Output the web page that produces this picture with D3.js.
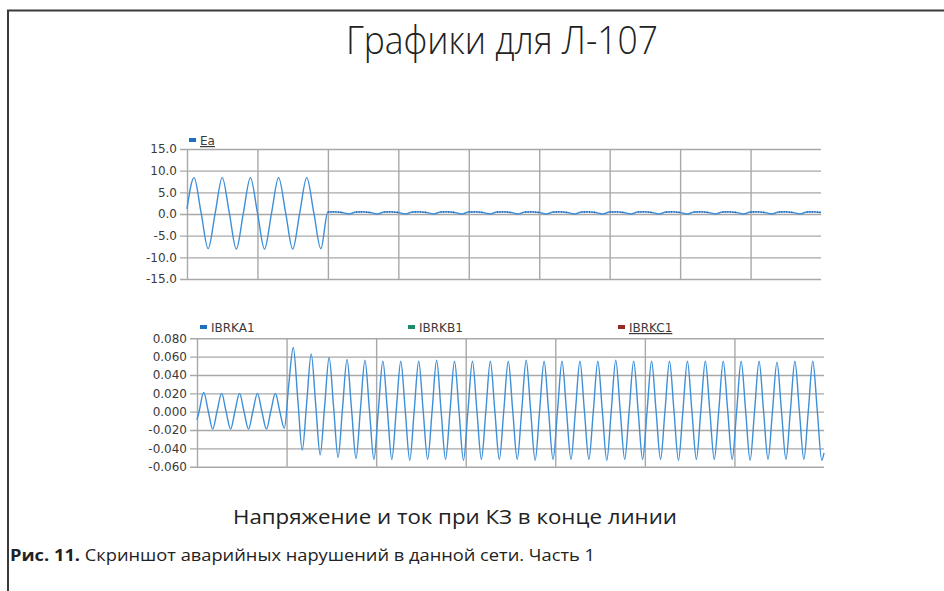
<!DOCTYPE html>
<html><head><meta charset="utf-8">
<script src="https://cdn.jsdelivr.net/npm/d3@7"></script>
<style>body{margin:0;background:#fff}svg{display:block}</style>
</head><body>
<script>
// ---- data ----
const titleText = "Графики для Л-107";
const subtitleText = "Напряжение и ток при КЗ в конце линии";
const captionBold = "Рис. 11.";
const captionText = " Скриншот аварийных нарушений в данной сети. Часть 1";

const topTicks = [15, 10, 5, 0, -5, -10, -15];
const topTickLabels = ["15.0", "10.0", "5.0", "0.0", "-5.0", "-10.0", "-15.0"];
const topGridTimes = [0, 50, 100, 150, 200, 250, 300, 350, 400];
const topDomain = [0, 450];
const eaTimes = d3.range(0, 451, 5);
const eaValues = [
  1.2, 8.4, 0.3, -8.0, 0.2, 8.4, 0.3, -8.1, 0.2, 8.4, 0.3, -8.1, 0.2, 8.4, 0.3, -8.1, 0.2, 8.4, 0.3, -8.0,
  0.45, 0.5, 0.35, 0.0, 0.45, 0.5, 0.35, 0.0, 0.45, 0.5, 0.35, 0.0, 0.45, 0.5, 0.35, 0.0,
  0.45, 0.5, 0.35, 0.0, 0.45, 0.5, 0.35, 0.0, 0.45, 0.5, 0.35, 0.0, 0.45, 0.5, 0.35, 0.0,
  0.45, 0.5, 0.35, 0.0, 0.45, 0.5, 0.35, 0.0, 0.45, 0.5, 0.35, 0.0, 0.45, 0.5, 0.35, 0.0,
  0.45, 0.5, 0.35, 0.0, 0.45, 0.5, 0.35, 0.0, 0.45, 0.5, 0.35, 0.0, 0.45, 0.5, 0.35, 0.0,
  0.45, 0.5, 0.35, 0.0, 0.45, 0.5, 0.35
];

const botTicks = [0.08, 0.06, 0.04, 0.02, 0, -0.02, -0.04, -0.06];
const botTickLabels = ["0.080", "0.060", "0.040", "0.020", "0.000", "-0.020", "-0.040", "-0.060"];
const botGridTimes = [0, 100, 200, 300, 400, 500, 600];
const botDomain = [0, 700];
const ibTimes = [0].concat(d3.range(2.5, 700, 5), [700]);
const ibValues = [
  -0.009,
  0.001, 0.021, 0.001, -0.019, 0.001, 0.020, 0.000, -0.019, 0.001, 0.020, 0.000, -0.019,
  0.001, 0.020, 0.000, -0.019, 0.001, 0.020, 0.000, -0.018,
  0.030, 0.070, 0.014, -0.042, 0.010, 0.063, 0.008, -0.047, 0.006, 0.059, 0.005, -0.050,
  0.004, 0.057, 0.003, -0.051, 0.003, 0.056, 0.002, -0.052, 0.002, 0.055, 0.002, -0.052,
  0.002, 0.055, 0.001, -0.053, 0.001, 0.055, 0.001, -0.052, 0.001, 0.056, 0.001, -0.052,
  0.001, 0.055, 0.001, -0.053, 0.001, 0.055, 0.001, -0.052, 0.001, 0.055, 0.001, -0.052,
  0.001, 0.055, 0.001, -0.052, 0.001, 0.056, 0.001, -0.053, 0.001, 0.055, 0.001, -0.052,
  0.001, 0.055, 0.001, -0.052, 0.001, 0.055, 0.001, -0.052, 0.001, 0.055, 0.001, -0.053,
  0.001, 0.056, 0.001, -0.052, 0.001, 0.055, 0.001, -0.052, 0.001, 0.055, 0.001, -0.052,
  0.001, 0.055, 0.001, -0.053, 0.001, 0.055, 0.001, -0.052, 0.001, 0.055, 0.001, -0.052,
  0.001, 0.055, 0.001, -0.052, 0.001, 0.055, 0.001, -0.053, 0.001, 0.055, 0.001, -0.052,
  0.001, 0.054, 0.001, -0.052, 0.001, 0.055, 0.001, -0.052, 0.001, 0.055, 0.001, -0.053,
  -0.045
];
const topLegend = [{name: "Ea", color: "#1f6fc0", underline: true}];
const botLegend = [
  {name: "IBRKA1", color: "#1f6fc0", underline: false},
  {name: "IBRKB1", color: "#1e8a6c", underline: false},
  {name: "IBRKC1", color: "#9a2a20", underline: true}
];

// ---- drawing ----
const W = 944, H = 591;
const svg = d3.select("body").append("svg").attr("width", W).attr("height", H);
const lineColor = "#3d8fd8", gridColor = "#a8a8a8", labelColor = "#3a3a3a";

svg.append("path").attr("d", `M8,${H} V10.5 H${W}`).attr("fill", "none")
  .attr("stroke", "#3a3a3a").attr("stroke-width", 2);

svg.append("text").attr("x", 502).attr("y", 54).attr("text-anchor", "middle")
  .attr("font-family", "Open Sans").attr("font-weight", 300).attr("font-size", 38)
  .attr("fill", "#222").attr("textLength", 312).attr("lengthAdjust", "spacingAndGlyphs")
  .text(titleText);

function panel(cfg) {
  const x = d3.scaleLinear().domain(cfg.domain).range([cfg.x0, cfg.x1]);
  const y = d3.scaleLinear().domain([cfg.ticks[0], cfg.ticks[cfg.ticks.length - 1]]).range([cfg.y0, cfg.y1]);
  const g = svg.append("g");
  // vertical grid via axis
  const bx = d3.axisBottom(x).tickValues(cfg.gridTimes).tickSize(-(cfg.y1 - cfg.y0)).tickFormat("");
  const bxG = g.append("g").attr("transform", `translate(0,${cfg.y1})`).call(bx);
  bxG.select(".domain").remove();
  bxG.selectAll(".tick line").attr("stroke", gridColor).attr("stroke-width", 1.4);
  // horizontal grid + labels via axis
  const ax = d3.axisLeft(y).tickValues(cfg.ticks).tickSize((cfg.x1 - cfg.x0) + 7)
    .tickFormat((d, i) => cfg.labels[i]).tickPadding(3);
  const axG = g.append("g").attr("transform", `translate(${cfg.x1},0)`).call(ax);
  axG.select(".domain").remove();
  axG.selectAll(".tick line").attr("stroke", gridColor).attr("stroke-width", 1.4);
  axG.selectAll(".tick text")
    .attr("font-family", "DejaVu Sans").attr("font-size", 12).attr("fill", labelColor);
  // series
  const pts = cfg.times.map((t, i) => [t, cfg.values[i]]);
  const line = d3.line().x(d => x(d[0])).y(d => y(d[1])).curve(d3.curveMonotoneX);
  g.append("path").attr("d", line(pts)).attr("fill", "none")
    .attr("stroke", lineColor).attr("stroke-width", 1.4);
  if (cfg.dots) {
    const dl = d3.line().defined(d => d[0] >= 100 && d[1] >= 0.3)
      .x(d => x(d[0])).y(d => y(d[1])).curve(d3.curveMonotoneX);
    g.append("path").attr("d", dl(pts)).attr("fill", "none")
      .attr("stroke", "#2a5ea8").attr("stroke-width", 1.6).attr("stroke-dasharray", "1 1.5");
  }
  // legend
  cfg.legend.forEach((l, i) => {
    const lx = cfg.legendX[i], ly = cfg.legendY;
    svg.append("rect").attr("x", lx).attr("y", ly - 7).attr("width", 7).attr("height", 4).attr("fill", l.color);
    svg.append("text").attr("x", lx + 11).attr("y", ly).attr("font-family", "DejaVu Sans")
      .attr("font-size", 12).attr("fill", labelColor)
      .attr("text-decoration", l.underline ? "underline" : null).text(l.name);
  });
}

panel({domain: topDomain, x0: 187, x1: 821, y0: 149, y1: 279, ticks: topTicks, labels: topTickLabels,
  gridTimes: topGridTimes, times: eaTimes, values: eaValues, legend: topLegend, legendX: [189], legendY: 145, dots: true});
panel({domain: botDomain, x0: 197, x1: 824, y0: 338.3, y1: 466.7, ticks: botTicks, labels: botTickLabels,
  gridTimes: botGridTimes, times: ibTimes, values: ibValues, legend: botLegend, legendX: [200, 408, 618], legendY: 332});

svg.append("text").attr("x", 455).attr("y", 524).attr("text-anchor", "middle")
  .attr("font-family", "Open Sans").attr("font-size", 20).attr("fill", "#222")
  .attr("textLength", 444).attr("lengthAdjust", "spacingAndGlyphs").text(subtitleText);

const cap = svg.append("text").attr("x", 10).attr("y", 561).attr("font-family", "Open Sans")
  .attr("font-size", 16.5).attr("fill", "#222").attr("textLength", 585).attr("lengthAdjust", "spacingAndGlyphs");
cap.append("tspan").attr("font-weight", 700).text(captionBold);
cap.append("tspan").text(captionText);
</script>
</body></html>
